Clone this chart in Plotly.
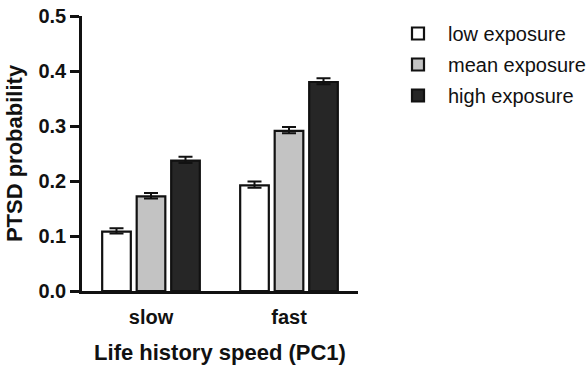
import plotly.graph_objects as go

categories = ["slow", "fast"]
series_names = ["low exposure", "mean exposure", "high exposure"]
low_vals = [0.108, 0.192]
mean_vals = [0.172, 0.291]
high_vals = [0.237, 0.380]
low_err = [0.006, 0.007]
mean_err = [0.006, 0.007]
high_err = [0.007, 0.007]
fill_colors = ["#ffffff", "#c3c3c3", "#262626"]
y_ticks = [0.0, 0.1, 0.2, 0.3, 0.4, 0.5]

FONT = "Arial, 'Liberation Sans', sans-serif"
W, H = 587, 372

fig = go.Figure()
for name, vals, errs, col in zip(series_names, [low_vals, mean_vals, high_vals],
                                 [low_err, mean_err, high_err], fill_colors):
    fig.add_trace(go.Bar(
        x=categories, y=vals, name=name, legendgroup=name,
        marker=dict(color=col, line=dict(color="#111111", width=2.2)),
        error_y=dict(type="data", array=errs, arrayminus=[e * 0.6 for e in errs],
                     symmetric=False, visible=True, color="#111111",
                     thickness=2, width=7),
    ))

fig.update_layout(
    width=W, height=H,
    margin=dict(l=82, r=W - 82 - 276, t=16, b=H - 16 - 275, autoexpand=False),
    paper_bgcolor="white", plot_bgcolor="white",
    barmode="group", bargap=0.25, bargroupgap=0.17,
    font=dict(family=FONT, color="#111111"),
    showlegend=True,
    legend=dict(xref="container", yref="container",
                x=388 / W, y=1 - 14 / H, xanchor="left", yanchor="top",
                font=dict(size=20, family=FONT, color="#111111"),
                itemwidth=50, tracegroupgap=2, bgcolor="rgba(0,0,0,0)"),
    xaxis=dict(
        automargin=False,
        showline=True, linecolor="#111111", linewidth=2.5,
        ticks="", ticklabelstandoff=6, ticklabeloverflow="allow",
        tickfont=dict(size=20, family=FONT, weight="bold"),
        title=dict(text="Life history speed (PC1)",
                   font=dict(size=22, family=FONT, weight="bold"), standoff=18),
        range=[-0.5, 1.5], showgrid=False, zeroline=False,
    ),
    yaxis=dict(
        automargin=True,
        range=[0, 0.5], tickvals=y_ticks, tickformat=".1f",
        ticklabeloverflow="allow",
        showline=True, linecolor="#111111", linewidth=2.5,
        ticks="outside", ticklen=9, tickwidth=2.5, tickcolor="#111111",
        tickfont=dict(size=20, family=FONT, weight="bold"),
        title=dict(text="PTSD probability",
                   font=dict(size=22, family=FONT, weight="bold"), standoff=10),
        showgrid=False, zeroline=False,
    ),
)

fig.write_html("out.html",
               config={"displayModeBar": False},
               post_script="document.body.style.margin='0px';")
